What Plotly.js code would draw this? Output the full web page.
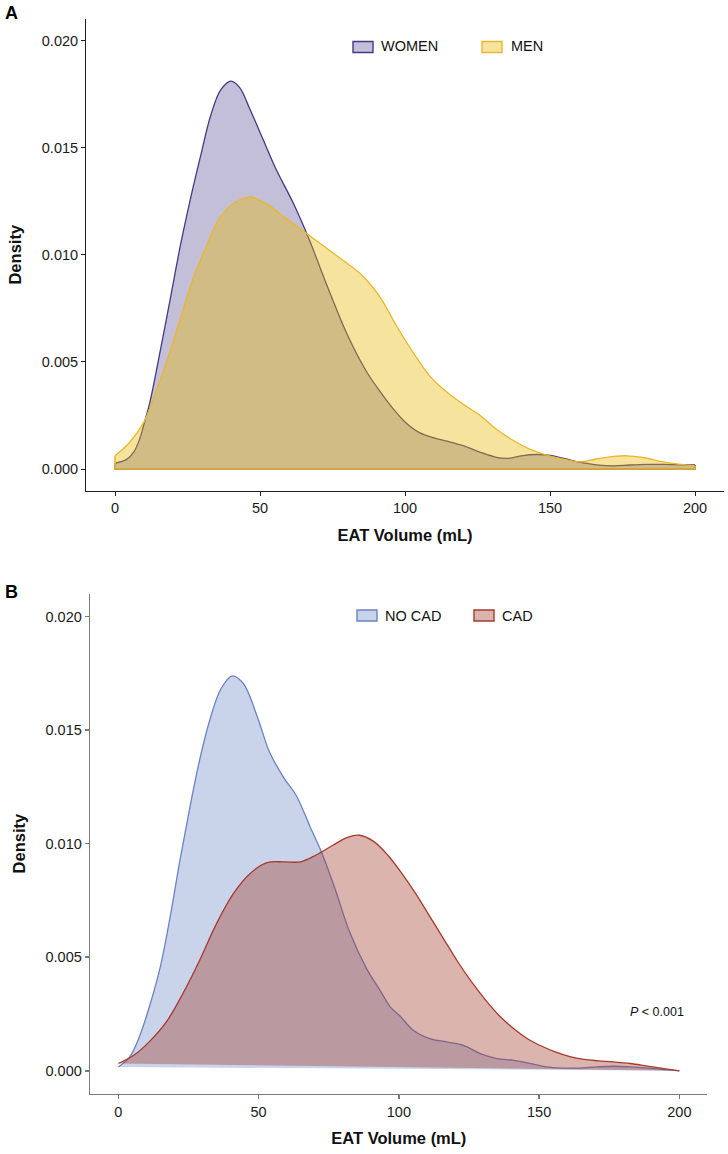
<!DOCTYPE html>
<html>
<head>
<meta charset="utf-8">
<script src="https://cdn.plot.ly/plotly-3.0.1.min.js"></script>
<style>
  html, body { margin: 0; padding: 0; background: #ffffff; }
  #chart { width: 728px; height: 1154px; }
</style>
</head>
<body>
<div id="chart"></div>
<script>
// ---------------- Data ----------------
// Panel A : EAT volume density by sex
const womenX = [0, 4, 6.5, 8.5, 10, 12, 15, 19, 22.5, 26, 29.5, 33, 36.5, 40, 43, 46.5, 51, 55.5, 61.5, 67, 73, 80, 86.5, 91.5, 96, 100, 105, 110, 114.5, 120, 126, 131.5, 135.5, 140, 145.5, 150, 155, 160.5, 166, 172, 177.5, 183.5, 189, 195, 200];
const womenY = [0.00027, 0.00045, 0.0008, 0.0014, 0.0021, 0.0031, 0.0051, 0.0079, 0.0104, 0.0126, 0.0146, 0.0165, 0.0177, 0.0181, 0.0178, 0.0168, 0.0154, 0.0140, 0.0124, 0.0107, 0.0086, 0.0063, 0.0046, 0.0036, 0.0028, 0.0022, 0.0017, 0.00145, 0.0013, 0.00109, 0.00078, 0.00055, 0.0005, 0.00062, 0.00068, 0.00064, 0.00049, 0.00031, 0.0002, 0.00015, 0.00019, 0.00022, 0.00022, 0.0002, 0.00019];

const menX = [0, 5, 10, 13, 18, 22.5, 27, 31.5, 36, 41, 46.5, 52, 58, 64, 67, 73, 80, 85.5, 91.5, 97, 103, 108.5, 114.5, 120, 126, 131.5, 137.5, 143, 150, 155, 160.5, 166, 172, 176.5, 182, 189, 195, 200];
const menY = [0.00062, 0.00124, 0.0022, 0.0032, 0.0051, 0.0070, 0.0089, 0.0104, 0.0117, 0.0124, 0.0127, 0.0124, 0.0118, 0.0112, 0.0109, 0.0103, 0.0096, 0.0090, 0.0080, 0.0067, 0.0054, 0.00435, 0.00358, 0.00303, 0.00249, 0.00186, 0.00132, 0.00093, 0.0006, 0.00045, 0.00034, 0.00047, 0.00059, 0.00062, 0.00054, 0.00034, 0.00022, 0.00015];

// Panel B : EAT volume density by CAD status
const noCadX = [0, 4, 7.5, 11, 15, 18.5, 22, 25.5, 29, 32.5, 36.5, 40.5, 44.5, 49.5, 54, 59, 63.5, 68.5, 72.5, 77, 82.5, 88.5, 93.5, 97, 100.5, 105, 111, 117, 123, 129, 135, 141, 147, 152.5, 158.5, 164.5, 170.5, 176.5, 182.5, 188.5, 194.5, 200];
const noCadY = [0.00017, 0.0006, 0.0015, 0.0028, 0.0046, 0.0068, 0.0093, 0.0116, 0.0137, 0.0154, 0.0168, 0.01738, 0.01706, 0.0156, 0.0140, 0.0129, 0.0121, 0.0107, 0.0096, 0.0081, 0.0061, 0.0045, 0.0035, 0.0028, 0.0024, 0.0018, 0.00142, 0.00127, 0.00112, 0.00076, 0.00054, 0.00046, 0.00032, 0.00017, 0.00012, 0.00012, 0.00017, 0.0002, 0.00017, 0.00012, 0.00005, 0.0];

const cadX = [0, 5.5, 11.5, 17.5, 23, 29, 35, 41, 47, 53, 59, 65, 70.5, 76.5, 81.5, 86, 91, 96, 101, 106, 111, 116, 121, 126, 131, 136, 141, 146, 151, 156, 161, 166, 171, 176.5, 182.5, 188.5, 194.5, 200];
const cadY = [0.00032, 0.00068, 0.00134, 0.00222, 0.0034, 0.00487, 0.00648, 0.0078, 0.00869, 0.00916, 0.0092, 0.0092, 0.0095, 0.00993, 0.01027, 0.01037, 0.0101, 0.0095, 0.0087, 0.0078, 0.0068, 0.0058, 0.0048, 0.0039, 0.0031, 0.0024, 0.00185, 0.0014, 0.00108, 0.00082, 0.00062, 0.0005, 0.00044, 0.00039, 0.00032, 0.00021, 0.0001, 0.0];

const seriesNamesA = ["WOMEN", "MEN"];
const seriesNamesB = ["NO CAD", "CAD"];
const xTicks = [0, 50, 100, 150, 200];
const yTicks = [0, 0.005, 0.010, 0.015, 0.020];
const xTitle = "EAT Volume (mL)";
const yTitle = "Density";
const pText = "<i>P</i> < 0.001";

// ---------------- Styles ----------------
const C = {
  women: { line: "#433a84", fill: "rgba(72,61,139,0.33)" },
  men:   { line: "#e9b82a", fill: "rgba(231,184,0,0.38)" },
  nocad: { line: "#6a83c6", fill: "rgba(90,120,192,0.33)" },
  cad:   { line: "#a8392b", fill: "rgba(162,59,42,0.38)" }
};
const FONT = "Liberation Sans, Arial, Helvetica, sans-serif";

function densityTrace(x, y, name, col, xa, ya, fillMode) {
  return {
    type: "scatter", mode: "lines", x: x, y: y, name: name,
    xaxis: xa, yaxis: ya, fill: fillMode, fillcolor: col.fill,
    line: { color: col.line, width: 1.3, shape: "spline", smoothing: 1 },
    showlegend: false, hoverinfo: "skip"
  };
}
function outlineTrace(x, y, col, xa, ya) {
  // base line + vertical end edges of the density polygon (ggplot "full" outline)
  return {
    type: "scatter", mode: "lines",
    x: [x[0], x[0], x[x.length - 1], x[x.length - 1]],
    y: [y[0], 0, 0, y[y.length - 1]],
    xaxis: xa, yaxis: ya,
    line: { color: col.line, width: 1.6 },
    showlegend: false, hoverinfo: "skip"
  };
}

const traces = [
  densityTrace(womenX, womenY, seriesNamesA[0], C.women, "x", "y", "tozeroy"),
  outlineTrace(womenX, womenY, C.women, "x", "y"),
  densityTrace(menX, menY, seriesNamesA[1], C.men, "x", "y", "tozeroy"),
  outlineTrace(menX, menY, C.men, "x", "y"),
  densityTrace(noCadX, noCadY, seriesNamesB[0], C.nocad, "x2", "y2", "toself"),
  densityTrace(cadX, cadY, seriesNamesB[1], C.cad, "x2", "y2", "toself")
];

// pixel -> paper helpers (page is 728 x 1154)
const W = 728, H = 1154;
const px = v => v / W;
const py = v => 1 - v / H;

function xAxis(domain, lineColor, lineWidth, anchor) {
  return {
    domain: domain, anchor: anchor, range: [-10, 210],
    tickvals: xTicks, ticktext: xTicks.map(String),
    showline: true, linecolor: lineColor, linewidth: lineWidth,
    ticks: "outside", ticklen: 4, tickwidth: lineWidth, tickcolor: lineColor,
    showgrid: false, zeroline: false,
    tickfont: { family: FONT, size: 14.5, color: "#1a1a1a" },
    title: { text: xTitle, standoff: 14, font: { family: FONT, size: 16.5, color: "#111", weight: "bold" } }
  };
}
function yAxis(domain, lineColor, lineWidth, anchor) {
  return {
    domain: domain, anchor: anchor, range: [-0.001, 0.021],
    tickvals: yTicks, ticktext: yTicks.map(v => v.toFixed(3)),
    showline: true, linecolor: lineColor, linewidth: lineWidth,
    ticks: "outside", ticklen: 4, tickwidth: lineWidth, tickcolor: lineColor,
    showgrid: false, zeroline: false,
    tickfont: { family: FONT, size: 14.5, color: "#1a1a1a" },
    title: { text: yTitle, standoff: 16, font: { family: FONT, size: 16.5, color: "#111", weight: "bold" } }
  };
}

function legendBox(x0, y0, col) {
  return { type: "rect", xref: "paper", yref: "paper",
    x0: px(x0), x1: px(x0 + 20), y0: py(y0), y1: py(y0 + 11),
    fillcolor: col.fill, line: { color: col.line, width: 1.4 } };
}
function legendText(x, y, text) {
  return { xref: "paper", yref: "paper", x: px(x), y: py(y), text: text,
    showarrow: false, xanchor: "left", yanchor: "middle",
    font: { family: FONT, size: 14.5, color: "#111" } };
}

const layout = {
  width: W, height: H,
  margin: { l: 0, r: 0, t: 0, b: 0 },
  paper_bgcolor: "#ffffff", plot_bgcolor: "rgba(0,0,0,0)",
  showlegend: false,
  font: { family: FONT },
  xaxis: xAxis([px(86), px(724)], "#1f1f1f", 1, "y"),
  yaxis: yAxis([py(490.5), py(19)], "#1f1f1f", 1, "x"),
  xaxis2: xAxis([px(90.3), px(707.4)], "#7a7a7a", 1.6, "y2"),
  yaxis2: yAxis([py(1093.5), py(593.8)], "#7a7a7a", 1.6, "x2"),
  shapes: [
    legendBox(353, 41.5, C.women), legendBox(482, 41.5, C.men),
    legendBox(357, 610, C.nocad), legendBox(474, 610, C.cad)
  ],
  annotations: [
    legendText(379, 46.5, seriesNamesA[0]), legendText(509, 46.5, seriesNamesA[1]),
    legendText(383, 615.5, seriesNamesB[0]), legendText(500, 615.5, seriesNamesB[1]),
    { xref: "paper", yref: "paper", x: px(11), y: py(13), text: "<b>A</b>", showarrow: false,
      xanchor: "center", yanchor: "middle", font: { family: FONT, size: 18, color: "#000" } },
    { xref: "paper", yref: "paper", x: px(11), y: py(591.5), text: "<b>B</b>", showarrow: false,
      xanchor: "center", yanchor: "middle", font: { family: FONT, size: 18, color: "#000" } },
    { xref: "x2", yref: "y2", x: 192, y: 0.0026, text: pText, showarrow: false,
      xanchor: "center", yanchor: "middle", font: { family: FONT, size: 12.5, color: "#111" } }
  ]
};

Plotly.newPlot("chart", traces, layout, { displayModeBar: false, staticPlot: true });
</script>
</body>
</html>
